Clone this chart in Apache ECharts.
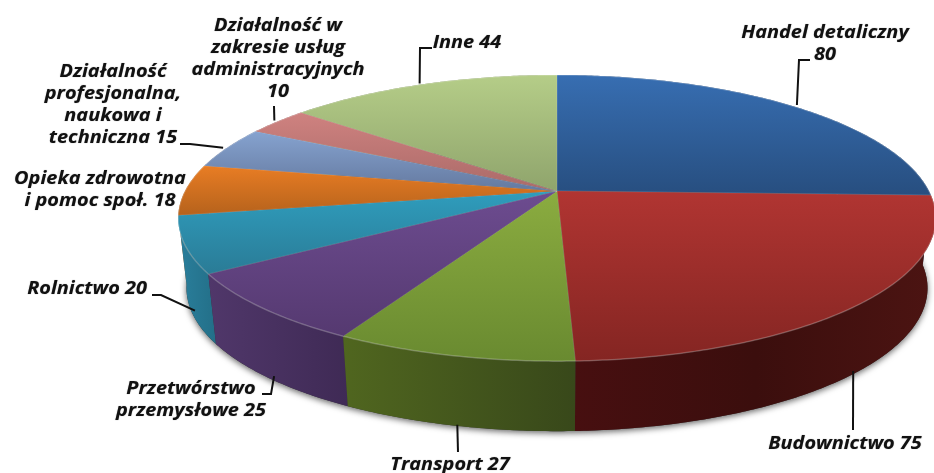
<!DOCTYPE html>
<html>
<head>
<meta charset="utf-8">
<title>Pie</title>
<style>
  html, body { margin: 0; padding: 0; background: #fff; }
  #main { width: 934px; height: 473px; }
</style>
<script src="https://cdn.jsdelivr.net/npm/echarts@6/dist/echarts.min.js"></script>
</head>
<body>
<div id="main"></div>
<script>
// dane
const categories = ["Handel detaliczny", "Budownictwo", "Transport", "Przetwórstwo przemysłowe", "Rolnictwo", "Opieka zdrowotna i pomoc społ.", "Działalność profesjonalna, naukowa i techniczna", "Działalność w zakresie usług administracyjnych", "Inne"];
const values = [80, 75, 27, 25, 20, 18, 15, 10, 44];
const labelTexts = [
  "Handel detaliczny\n80",
  "Budownictwo 75",
  "Transport 27",
  "Przetwórstwo\nprzemysłowe 25",
  "Rolnictwo 20",
  "Opieka zdrowotna\ni pomoc społ. 18",
  "Działalność\nprofesjonalna,\nnaukowa i\ntechniczna 15",
  "Działalność w\nzakresie usług\nadministracyjnych\n10",
  "Inne 44"
];

// kolory
const topColors = [
  ["#376eb2", "#274e7f"], ["#b13532", "#842522"], ["#8bac40", "#698a30"],
  ["#6d4c90", "#553970"], ["#2f9dbd", "#2a7b96"], ["#e97d24", "#b5621c"],
  ["#86a3d0", "#64799f"], ["#cf8280", "#aa6a68"], ["#b5cd88", "#8fa46c"]
];
const sideColors = [
  ["#1f3a5e", "#1f3a5e"], ["#470f10", "#3b0e0d", "#4c1412"], ["#50661f", "#38481a"],
  ["#50376a", "#3f2a55"], ["#2a7f9c", "#236f88"], ["#8a4a14", "#8a4a14"],
  ["#4f6080", "#4f6080"], ["#804f4e", "#804f4e"], ["#6c7e50", "#6c7e50"]
];

// uklad: srodek, promienie, perspektywa, grubosc
const CX = 557, CY = 191, RX = 372, RY = 138, PERSP = 0.189, DEPTH = 70, BOTTOM_SCALE = 0.978;

// etykiety: srodek tekstu
const labelPos = [[825, 44], [845, 444], [450, 465], [191, 400], [87, 289], [100, 190], [113, 105], [278, 59], [467, 43]];
// linie od wycinka do etykiety (bez punktu startu)
const leaderEnds = [
  [[799, 60], [810, 60]], [[853, 430]], [[458, 452]], [[271, 394], [262, 394]],
  [[161, 295], [152, 295]], [], [[190, 144], [180, 144]], [[274, 106]], [[420, 48], [432, 48]]
];
// linia startuje od dolnej krawedzi dla wycinkow z przodu
const leaderOnWall = [false, true, true, true, true, false, false, false, false];
const leaderNudge = [[4, -1], [-2, -2], [2, -1], [5, -2], [2, -4], [0, 0], [-4, 0], [-3, -1], [-2, -1]];

const total = values.reduce((a, b) => a + b, 0);
const angles = [];
let acc = 0;
values.forEach(v => {
  const a0 = acc / total * 2 * Math.PI;
  acc += v;
  angles.push([a0, acc / total * 2 * Math.PI]);
});

function topPoint(t) {
  const u = Math.sin(t), v = -Math.cos(t);
  const d = 1 - PERSP * v;
  return [CX + RX * u / d, CY + RY * v / d];
}
function bottomPoint(t) {
  const p = topPoint(t);
  return [CX + (p[0] - CX) * BOTTOM_SCALE, p[1] + DEPTH];
}
function arc(a0, a1, fn) {
  const n = Math.max(2, Math.ceil((a1 - a0) / 0.01));
  const pts = [];
  for (let i = 0; i <= n; i++) pts.push(fn(a0 + (a1 - a0) * i / n));
  return pts;
}
function grad(x2, y2, c) {
  return new echarts.graphic.LinearGradient(0, 0, x2, y2,
    c.map((color, k) => ({ offset: k / (c.length - 1), color })));
}

const seriesData = values.map((v, i) => [i, v]);
// boki rysowane od tylu do przodu
const midCos = i => -Math.cos((angles[i][0] + angles[i][1]) / 2);
const sideData = seriesData.slice().sort((a, b) => midCos(a[0]) - midCos(b[0]));

const chart = echarts.init(document.getElementById("main"));
chart.setOption({
  animation: false,
  backgroundColor: "#ffffff",
  series: [
    {
      // cien pod tortem
      type: "custom",
      coordinateSystem: "none",
      z: 0,
      silent: true,
      data: seriesData.slice(0, 1),
      renderItem() {
        return {
          type: "polygon",
          shape: { points: arc(0, 2 * Math.PI, bottomPoint) },
          style: {
            fill: "#333333",
            shadowColor: "rgba(0,0,0,0.6)",
            shadowBlur: 6,
            shadowOffsetY: 2
          }
        };
      }
    },
    {
      // boki
      type: "custom",
      coordinateSystem: "none",
      z: 1,
      silent: true,
      data: sideData,
      renderItem(params, api) {
        const i = api.value(0);
        const [a0, a1] = angles[i];
        const pts = arc(a0, a1, topPoint).concat(arc(a0, a1, bottomPoint).reverse());
        return {
          type: "polygon",
          shape: { points: pts },
          style: { fill: grad(1, 0, sideColors[i]) }
        };
      }
    },
    {
      // gorna powierzchnia
      type: "custom",
      coordinateSystem: "none",
      z: 2,
      silent: true,
      data: seriesData,
      renderItem(params, api) {
        const i = api.value(0);
        const [a0, a1] = angles[i];
        const edge = arc(a0, a1, topPoint);
        return {
          type: "group",
          children: [
            {
              type: "polygon",
              shape: { points: [[CX, CY]].concat(edge) },
              style: { fill: grad(0, 1, topColors[i]), stroke: "rgba(255,255,255,0.1)", lineWidth: 1 }
            },
            {
              type: "polyline",
              shape: { points: edge },
              style: { fill: null, stroke: "rgba(255,255,255,0.18)", lineWidth: 1.5 }
            }
          ]
        };
      }
    },
    {
      // etykiety i linie
      type: "custom",
      coordinateSystem: "none",
      z: 3,
      silent: true,
      data: seriesData,
      renderItem(params, api) {
        const i = api.value(0);
        const mid = (angles[i][0] + angles[i][1]) / 2;
        const p = leaderOnWall[i] ? bottomPoint(mid) : topPoint(mid);
        const start = [p[0] + leaderNudge[i][0], p[1] + leaderNudge[i][1]];
        const children = [{
          type: "text",
          x: labelPos[i][0],
          y: labelPos[i][1],
          scaleX: 1.17,
          style: {
            text: labelTexts[i],
            fontFamily: "'Open Sans', sans-serif",
            fontStyle: "italic",
            fontWeight: "bold",
            fontSize: 17,
            lineHeight: 22,
            fill: "#111111",
            align: "center",
            verticalAlign: "middle",
            textShadowColor: "rgba(0,0,0,0.45)",
            textShadowBlur: 1
          }
        }];
        if (leaderEnds[i].length) {
          children.push({
            type: "polyline",
            shape: { points: [start].concat(leaderEnds[i]) },
            style: { fill: null, stroke: "#111111", lineWidth: 2 }
          });
        }
        return { type: "group", children };
      }
    }
  ]
});
</script>
</body>
</html>
